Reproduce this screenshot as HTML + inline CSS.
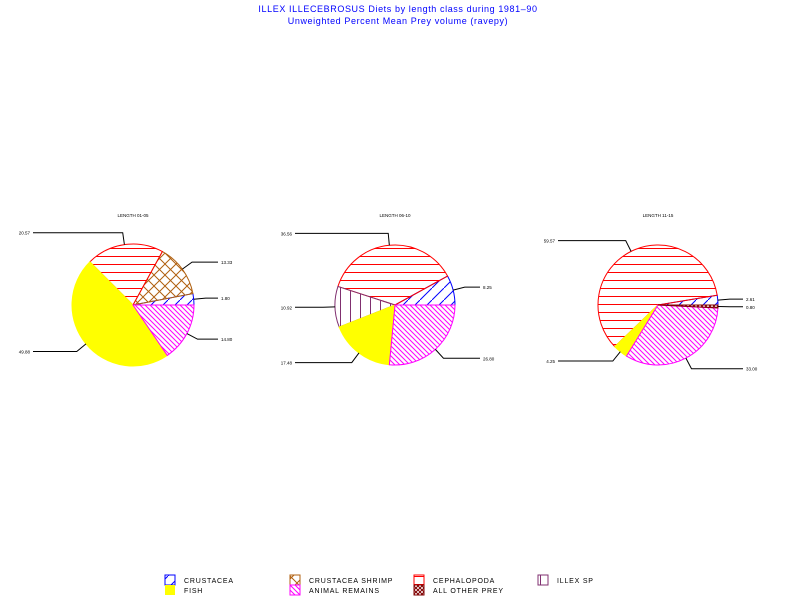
<!DOCTYPE html>
<html><head><meta charset="utf-8"><style>
body{margin:0;background:#fff;width:800px;height:600px;overflow:hidden}
svg{display:block;font-family:"Liberation Sans",sans-serif}
</style></head><body>
<svg id="c" width="800" height="600">
<defs>
<pattern id="p-crust" patternUnits="userSpaceOnUse" width="12" height="12"><path d="M-3,15 L15,-3" stroke="#0000ff" stroke-width="1"/></pattern>
<pattern id="p-shrimp" patternUnits="userSpaceOnUse" width="11" height="11"><path d="M0,0 L11,11 M11,0 L0,11" stroke="#b06010" stroke-width="1"/></pattern>
<pattern id="p-ceph" patternUnits="userSpaceOnUse" width="8" height="8"><path d="M0,0.5 L8,0.5" stroke="#ff0000" stroke-width="1"/></pattern>
<pattern id="p-illex" patternUnits="userSpaceOnUse" width="10" height="10"><path d="M0.5,0 L0.5,10" stroke="#803070" stroke-width="1"/></pattern>
<pattern id="p-remains" patternUnits="userSpaceOnUse" width="5" height="5"><path d="M-1,-1 L6,6 M-6,-1 L1,6 M4,-1 L11,6" stroke="#ff00ff" stroke-width="1"/></pattern>
<pattern id="p-other" patternUnits="userSpaceOnUse" width="4" height="4"><path d="M0,0 L4,4 M4,0 L0,4" stroke="#800000" stroke-width="1"/></pattern>
</defs>
<text x="398" y="12" text-anchor="middle" font-size="9" fill="#0000ff" letter-spacing="0.6">ILLEX ILLECEBROSUS Diets by length class during 1981–90</text>
<text x="398" y="24" text-anchor="middle" font-size="9" fill="#0000ff" letter-spacing="0.6">Unweighted Percent Mean Prey volume (ravepy)</text>
<g id="pies"></g>
<g id="legend"></g>
</svg>
<script>
const categories=["CRUSTACEA","CRUSTACEA SHRIMP","CEPHALOPODA","ILLEX SP","FISH","ANIMAL REMAINS","ALL OTHER PREY"];
const pieTitles=["LENGTH 01-05","LENGTH 06-10","LENGTH 11-15"];
const pie1Values=[3.0,14.0,20.5,0,47.0,15.5,0];
const pie2Values=[8.0,0,37.0,11.0,17.5,26.5,0];
const pie3Values=[2.6,0,59.6,0,4.0,33.0,0.8];
const pie1Labels=["1.80","13.33","20.57","","49.88","14.80","0.00"];
const pie2Labels=["8.25","","36.56","10.92","17.48","26.80","0.00"];
const pie3Labels=["2.61","","59.57","","4.25","33.00","0.80"];
const fills=["url(#p-crust)","url(#p-shrimp)","url(#p-ceph)","url(#p-illex)","#ffff00","url(#p-remains)","url(#p-other)"];
const strokes=["#0000ff","#b06010","#ff0000","#803070","#ffff00","#ff00ff","#800000"];
const NS="http://www.w3.org/2000/svg";
const pies=[{cx:133,cy:305,r:61,v:pie1Values,l:pie1Labels},{cx:395,cy:305,r:60,v:pie2Values,l:pie2Labels},{cx:658,cy:305,r:60,v:pie3Values,l:pie3Labels}];
const g=document.getElementById('pies');
function mk(t,a){const e=document.createElementNS(NS,t);for(const k in a)e.setAttribute(k,a[k]);return e;}
function pt(p,a,r){return [p.cx+r*Math.cos(a),p.cy-r*Math.sin(a)];}
pies.forEach((p,pi)=>{
  const tt=mk('text',{x:p.cx,y:p.cy-88,'text-anchor':'middle','font-size':'4.5',fill:'#000'});
  
  
  tt.textContent=pieTitles[pi];g.appendChild(tt);
  const tot=p.v.reduce((a,b)=>a+b,0);let a0=0;
  p.v.forEach((v,i)=>{
    if(v<=0)return;
    const a1=a0+v/tot*2*Math.PI;
    const [x0,y0]=pt(p,a0,p.r),[x1,y1]=pt(p,a1,p.r);
    const large=(a1-a0)>Math.PI?1:0;
    const path=mk('path',{d:`M${p.cx},${p.cy} L${x0},${y0} A${p.r},${p.r} 0 ${large} 0 ${x1},${y1} Z`,fill:fills[i],stroke:strokes[i],'stroke-width':1});
    
    
    g.appendChild(path);
    const m=(a0+a1)/2;
    const [sx,sy]=pt(p,m,p.r);const [ex,ey]=pt(p,m,p.r+12);
    const right=Math.cos(m)>=0;const lx=right?p.cx+85:p.cx-100;
    const ln=mk('polyline',{points:`${sx},${sy} ${ex},${ey} ${lx},${ey}`,fill:'none',stroke:'#000','stroke-width':1});
    
    
    g.appendChild(ln);
    const lt=mk('text',{x:right?lx+3:lx-3,y:ey+2,'text-anchor':right?'start':'end','font-size':'4.5',fill:'#000'});
    
    
    lt.textContent=p.l[i];g.appendChild(lt);
    a0=a1;
  });
});
const lg=document.getElementById('legend');
const lpos=[[165,575],[165,585],[290,575],[290,585],[414,575],[414,585],[538,575]];
const lorder=[0,4,1,5,2,6,3];
lorder.forEach((ci,k)=>{
  const [x,y]=lpos[k];
  const r=mk('rect',{x:x,y:y,width:10,height:10,fill:fills[ci],stroke:strokes[ci]=="#ffff00"?"none":strokes[ci]});
  
  
  lg.appendChild(r);
  const t=mk('text',{x:x+19,y:y+8,'font-size':'7',fill:'#000','letter-spacing':'0.8'});
  
  
  t.textContent=categories[ci];lg.appendChild(t);
});
</script>
</body></html>
